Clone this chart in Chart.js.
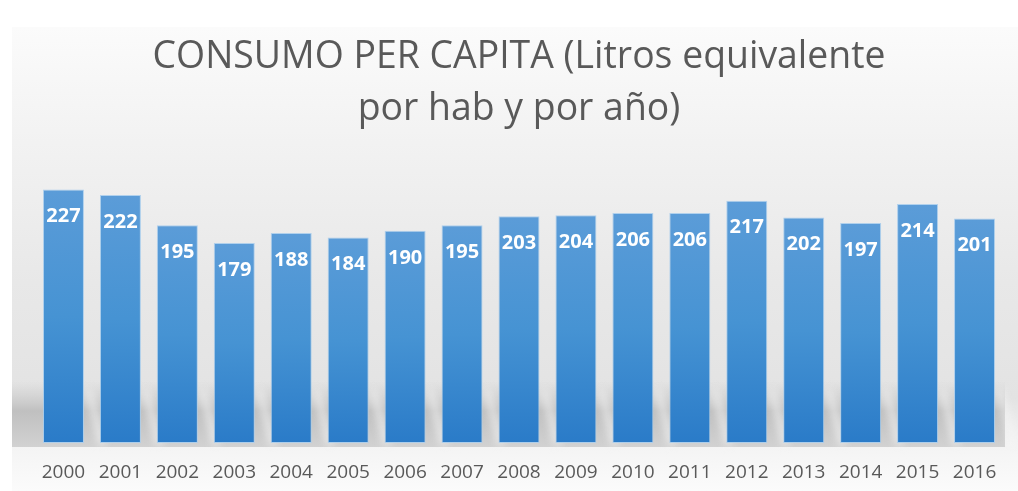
<!DOCTYPE html>
<html>
<head>
<meta charset="utf-8">
<script src="https://cdn.jsdelivr.net/npm/chart.js@4"></script>
<style>
  html, body { margin: 0; padding: 0; background: #ffffff; }
  #wrap { width: 1018px; height: 491px; }
</style>
</head>
<body>
<div id="wrap"><canvas id="chart" width="1018" height="491"></canvas></div>
<script>
// Data
const years = ['2000', '2001', '2002', '2003', '2004', '2005', '2006', '2007', '2008',
  '2009', '2010', '2011', '2012', '2013', '2014', '2015', '2016'];
const consumo = [227, 222, 195, 179, 188, 184, 190, 195, 203, 204, 206, 206, 217, 202, 197, 214, 201];
const titleLines = ['CONSUMO PER CAPITA (Litros equivalente', 'por hab y por año)'];

const TEXT_GREY = '#595959';

// Background panel, soft gradient and the grey "floor" shadow behind the bars
const backgroundPlugin = {
  id: 'panelBackground',
  beforeDraw(chart) {
    const ctx = chart.ctx;
    const area = chart.chartArea;
    ctx.save();
    ctx.fillStyle = '#ffffff';
    ctx.fillRect(0, 0, chart.width, chart.height);

    const g = ctx.createLinearGradient(0, 27, 0, chart.height);
    g.addColorStop(0, '#fbfbfb');
    g.addColorStop(0.25, '#f2f2f2');
    g.addColorStop(0.55, '#e8e8e8');
    g.addColorStop(0.8, '#e3e3e3');
    g.addColorStop(0.89, '#f3f3f3');
    g.addColorStop(1, '#fbfbfb');
    ctx.fillStyle = g;
    ctx.fillRect(12, 27, chart.width - 12, chart.height - 27);

    // floor band
    const bandTop = area.bottom - 62;
    const bandBottom = area.bottom + 4;
    const bg = ctx.createLinearGradient(0, bandTop, 0, bandBottom);
    bg.addColorStop(0, 'rgba(200,200,200,0)');
    bg.addColorStop(0.45, 'rgba(185,185,185,0.85)');
    bg.addColorStop(1, 'rgba(195,195,195,0.7)');
    ctx.fillStyle = bg;
    ctx.fillRect(12, bandTop, 993, bandBottom - bandTop);

    // light diagonal streaks between bars
    const meta = chart.getDatasetMeta(0);
    ctx.filter = 'blur(4px)';
    ctx.fillStyle = 'rgba(245,245,245,0.85)';
    meta.data.forEach((bar) => {
      const right = bar.x + bar.width / 2;
      ctx.beginPath();
      ctx.moveTo(right + 2, bandTop + 8);
      ctx.lineTo(right + 7, bandTop + 8);
      ctx.lineTo(right + 22, bandBottom - 2);
      ctx.lineTo(right + 15, bandBottom - 2);
      ctx.closePath();
      ctx.fill();
    });
    ctx.filter = 'none';

    // title
    ctx.fillStyle = TEXT_GREY;
    ctx.textAlign = 'left';
    ctx.textBaseline = 'alphabetic';
    ctx.font = '38px "Open Sans"';
    const targetWidth = 733;
    const sx = targetWidth / ctx.measureText(titleLines[0]).width;
    const baselines = [68, 120];
    titleLines.forEach((line, i) => {
      const w = ctx.measureText(line).width * sx;
      ctx.save();
      ctx.translate(519 - w / 2, baselines[i]);
      ctx.scale(sx, 1);
      ctx.fillText(line, 0, 0);
      ctx.restore();
    });
    ctx.restore();
  }
};

// White bold value labels inside the top of each bar
const valueLabelPlugin = {
  id: 'valueLabels',
  afterDatasetsDraw(chart) {
    const ctx = chart.ctx;
    const meta = chart.getDatasetMeta(0);
    ctx.save();
    ctx.fillStyle = '#ffffff';
    ctx.font = 'bold 20px "Open Sans"';
    ctx.textAlign = 'center';
    ctx.textBaseline = 'middle';
    meta.data.forEach((bar, i) => {
      ctx.fillText(String(consumo[i]), bar.x, bar.y + 27);
    });
    ctx.restore();
  }
};

function barGradient(context) {
  const chart = context.chart;
  if (!chart.chartArea || context.type !== 'data') return '#4a90d4';
  const y = chart.scales.y;
  const top = y.getPixelForValue(context.raw);
  const bottom = y.getPixelForValue(0);
  const g = chart.ctx.createLinearGradient(0, top, 0, bottom);
  g.addColorStop(0, '#5b9cd8');
  g.addColorStop(0.5, '#4693d3');
  g.addColorStop(1, '#2a7bc8');
  return g;
}

const ctx = document.getElementById('chart');
new Chart(ctx, {
  type: 'bar',
  data: {
    labels: years,
    datasets: [{
      data: consumo,
      backgroundColor: barGradient,
      borderColor: 'rgba(170,205,236,0.9)',
      borderWidth: 1,
      borderSkipped: false,
      categoryPercentage: 1,
      barPercentage: 0.72
    }]
  },
  options: {
    responsive: false,
    animation: false,
    layout: { padding: { top: 175, left: 35, right: 15, bottom: 10 } },
    plugins: {
      legend: { display: false },
      title: { display: false },
      tooltip: { enabled: false }
    },
    scales: {
      x: {
        grid: { display: false, drawTicks: false },
        border: { display: false },
        afterFit(scale) { scale.height = 38; },
        ticks: {
          color: TEXT_GREY,
          font: { family: '"Open Sans"', size: 19 },
          padding: 18,
          maxRotation: 0,
          autoSkip: false
        }
      },
      y: {
        display: false,
        min: 0,
        max: 240
      }
    }
  },
  plugins: [backgroundPlugin, valueLabelPlugin]
});
</script>
</body>
</html>
